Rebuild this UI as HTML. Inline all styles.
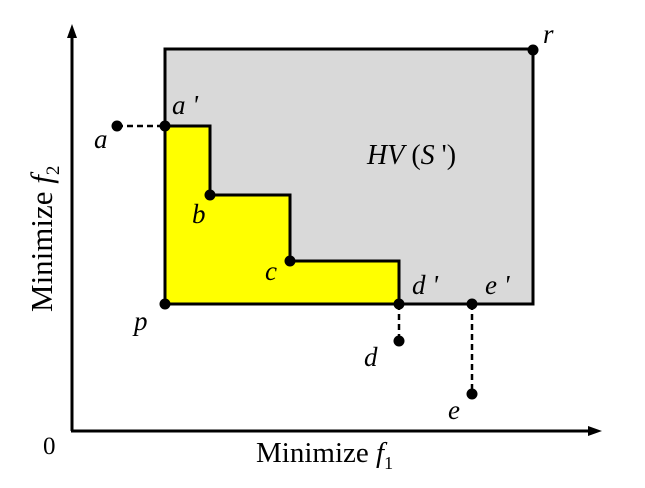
<!DOCTYPE html>
<html><head><meta charset="utf-8"><style>
html,body{margin:0;padding:0;background:#fff;}
svg{display:block;}
text{font-family:"Liberation Serif",serif;fill:#000;}
.i{font-style:italic;font-size:27px;}
</style></head><body>
<svg width="645" height="488" viewBox="0 0 645 488" xmlns="http://www.w3.org/2000/svg">
<rect x="165" y="49" width="368" height="255" fill="#d9d9d9" stroke="#000" stroke-width="3"/>
<polygon points="165,126 210,126 210,195 290,195 290,261 399,261 399,304 165,304" fill="#ffff00" stroke="#000" stroke-width="3" stroke-linejoin="miter"/>
<line x1="72" y1="431" x2="72" y2="36" stroke="#000" stroke-width="3"/>
<polygon points="72,24 67,38 77,38" fill="#000"/>
<line x1="71" y1="431" x2="590" y2="431" stroke="#000" stroke-width="3"/>
<polygon points="602,431 588,426 588,436" fill="#000"/>
<line x1="117" y1="126" x2="165" y2="126" stroke="#000" stroke-width="2.5" stroke-dasharray="6,4"/>
<line x1="399" y1="304" x2="399" y2="341" stroke="#000" stroke-width="2.5" stroke-dasharray="6,4"/>
<line x1="472" y1="304" x2="472" y2="394" stroke="#000" stroke-width="2.5" stroke-dasharray="6,4"/>
<g fill="#000">
<circle cx="117" cy="126" r="5.5"/><circle cx="165" cy="126" r="5.5"/>
<circle cx="210" cy="195" r="5.5"/><circle cx="290" cy="261" r="5.5"/>
<circle cx="165" cy="304" r="5.5"/><circle cx="399" cy="304" r="5.5"/>
<circle cx="399" cy="341" r="5.5"/><circle cx="472" cy="304" r="5.5"/>
<circle cx="472" cy="394" r="5.5"/><circle cx="533" cy="50" r="5.5"/>
</g>
<text class="i" x="94" y="148">a</text>
<text class="i" x="172" y="114">a '</text>
<text class="i" x="192" y="223">b</text>
<text class="i" x="265" y="280">c</text>
<text class="i" x="134" y="330">p</text>
<text class="i" x="412" y="294">d '</text>
<text class="i" x="485" y="294">e '</text>
<text class="i" x="364" y="366">d</text>
<text class="i" x="448" y="419">e</text>
<text class="i" x="543" y="43">r</text>
<text x="367" y="164" font-size="28"><tspan font-style="italic">HV</tspan> (<tspan font-style="italic">S</tspan> ')</text>
<text x="43" y="454" font-size="25">0</text>
<text x="256" y="462" font-size="29">Minimize <tspan font-style="italic">f</tspan><tspan font-size="18" dy="7">1</tspan></text>
<text transform="translate(52,312) rotate(-90)" font-size="31">Minimize <tspan font-style="italic">f</tspan><tspan font-size="19" dy="7">2</tspan></text>
</svg>
</body></html>
